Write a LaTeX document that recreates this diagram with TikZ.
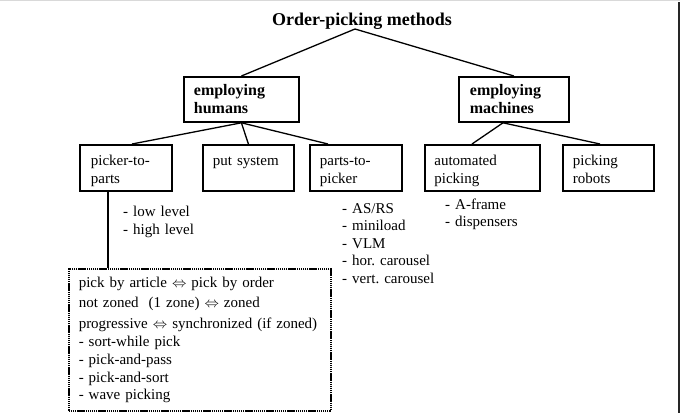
\documentclass[tikz,border=0pt]{standalone}
\usepackage{fontspec}
\setmainfont{Liberation Serif}
\frenchspacing
\begin{document}
\begin{tikzpicture}[x=1pt,y=-1pt,
  conn/.style={line width=1.3pt},
  tbox/.style={draw, line width=1.8pt, rectangle, anchor=north west, inner ysep=0pt, align=left, font=\fontsize{15}{17.5}\selectfont},
  hbox/.style={tbox, font=\fontsize{16}{18}\bfseries\selectfont},
  lst/.style={anchor=base west, inner sep=0pt, align=left, text width=120pt, font=\fontsize{15}{17.5}\selectfont},
]
\useasboundingbox (0,0) rectangle (680,413);
\draw[black!15, line width=1pt] (0,0.5) -- (680,0.5);
\draw[black!85, line width=1.2pt] (679,2) -- (679,413);

\node[font=\fontsize{18}{20}\bfseries\selectfont, anchor=base, inner sep=0pt] (title) at (362,25) {Order-picking methods};
\coordinate (apex) at (355,29);

\node[hbox, inner xsep=10pt, text width=95pt, text height=19pt, text depth=26pt] (hum) at (183,76) {employing\\humans};
\node[hbox, inner xsep=11pt, text width=88pt, text height=19pt, text depth=26pt] (mach) at (458,76) {employing\\machines};

\node[tbox, inner xsep=11pt, text width=70pt, text height=21pt, text depth=25pt] (ptp) at (79,144) {picker-to-\\parts};
\node[tbox, inner xsep=10pt, text width=71pt, text height=21pt, text depth=25pt] (put) at (202,144) {put system};
\node[tbox, inner xsep=10pt, text width=72pt, text height=21pt, text depth=25pt] (p2p) at (309,144) {parts-to-\\picker};
\node[tbox, inner xsep=9.5pt, text width=96pt, text height=21pt, text depth=25pt] (auto) at (424,144) {automated\\picking};
\node[tbox, inner xsep=10pt, text width=71pt, text height=21pt, text depth=25pt] (rob) at (562,144) {picking\\robots};

\draw[conn] (apex) -- (hum.north);
\draw[conn] (apex) -- (mach.north);
\draw[conn] (hum.south) -- ([xshift=53pt]ptp.north west);
\draw[conn] (hum.south) -- (put.north);
\draw[conn] (hum.south) -- ([xshift=19pt]p2p.north west);
\draw[conn] ([xshift=45pt]mach.south west) -- ([xshift=48pt]auto.north west);
\draw[conn] ([xshift=45pt]mach.south west) -- ([xshift=38pt]rob.north west);

\node[lst] (lvl) at (123,216.5) {- low level\\- high level};
\node[lst] (asrs) at (342,213.3) {- AS/RS\\- miniload\\- VLM\\- hor. carousel\\- vert. carousel};
\node[lst, font=\fontsize{15}{17}\selectfont] (af) at (445,209) {- A-frame\\- dispensers};

\node[draw, dash pattern=on 1.4pt off 0.7pt, line width=1.5pt, anchor=north west, inner xsep=10pt, inner ysep=0pt,
      text width=242pt, text height=19pt, text depth=123pt, align=left,
      font=\fontsize{15}{17.7}\selectfont] (dot) at (68,268)
  {pick by article $\Leftrightarrow$ pick by order\\[2.4pt]
   not zoned\ \ (1 zone) $\Leftrightarrow$ zoned\\[3pt]
   progressive $\Leftrightarrow$ synchronized (if zoned)\\[0.6pt]
   - sort-while pick\\
   - pick-and-pass\\
   - pick-and-sort\\
   - wave picking};

\draw[conn] ([xshift=29pt]ptp.south west) -- ([xshift=29pt]ptp.south west |- dot.north);
\end{tikzpicture}
\end{document}
